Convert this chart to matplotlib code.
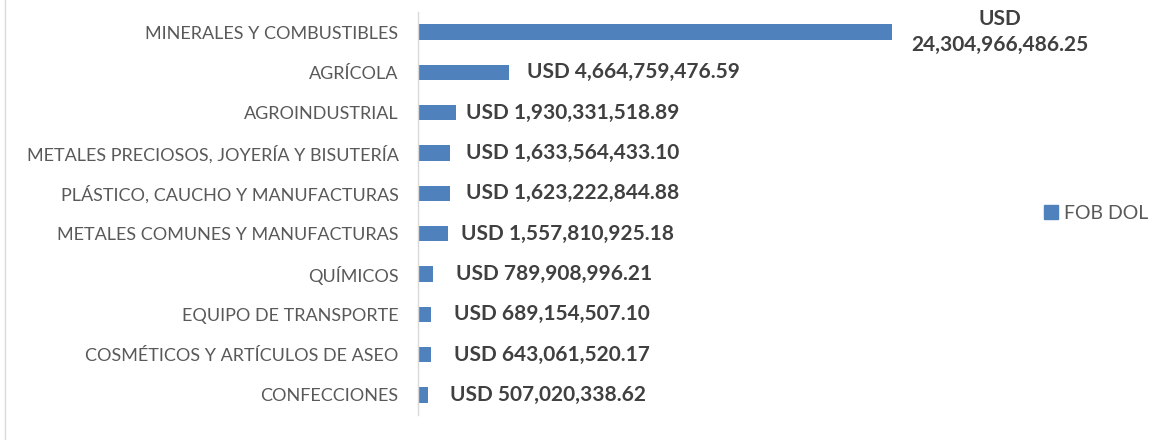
import matplotlib.pyplot as plt
from matplotlib.lines import Line2D

# Data (top to bottom as shown)
categories = [
    'MINERALES Y COMBUSTIBLES',
    'AGRÍCOLA',
    'AGROINDUSTRIAL',
    'METALES PRECIOSOS, JOYERÍA Y BISUTERÍA',
    'PLÁSTICO, CAUCHO Y MANUFACTURAS',
    'METALES COMUNES Y MANUFACTURAS',
    'QUÍMICOS',
    'EQUIPO DE TRANSPORTE',
    'COSMÉTICOS Y ARTÍCULOS DE ASEO',
    'CONFECCIONES',
]
fob_values = [
    24304966486.25,
    4664759476.59,
    1930331518.89,
    1633564433.10,
    1623222844.88,
    1557810925.18,
    789908996.21,
    689154507.10,
    643061520.17,
    507020338.62,
]
series_name = 'FOB DOL'

# label gap from bar end, in pixels (labels were nudged by hand in the original)
label_gap = [108, 18, 10, 16, 16, 13, 23, 23, 23, 22]

bar_color = '#4f81bd'
text_color = '#595959'
label_color = '#404040'
font = ['Lato', 'DejaVu Sans']

W, H, DPI = 1169, 440, 100
fig = plt.figure(figsize=(W / DPI, H / DPI), dpi=DPI)

# axes placed so that the axis line sits at x=418px, rows from y=12 to y=415
ax_left, ax_right = 418, 1000
ax_top, ax_bot = 12, 415
ax = fig.add_axes([ax_left / W, 1 - ax_bot / H, (ax_right - ax_left) / W, (ax_bot - ax_top) / H])

ypos = list(range(len(categories)))
ax.barh(ypos, fob_values, height=0.38, color=bar_color)
ax.set_ylim(len(categories) - 0.5, -0.5)
# max bar ends at 892px
xmax = fob_values[0] * (ax_right - ax_left) / (892 - ax_left)
ax.set_xlim(0, xmax)

ax.set_yticks(ypos)
ax.set_yticklabels(categories, family=font, fontsize=13, color=text_color)
ax.tick_params(axis='y', length=0, pad=14)
ax.set_xticks([])
for s in ['top', 'right', 'bottom']:
    ax.spines[s].set_visible(False)
ax.spines['left'].set_color('#d9d9d9')
ax.spines['left'].set_linewidth(1)

for i, v in enumerate(fob_values):
    txt = f'USD {v:,.2f}'
    if i == 0:
        ax.annotate(txt.replace(' ', '\n', 1), (v, i), xytext=(label_gap[i] * 72 / DPI, 0),
                    textcoords='offset points', ha='center', va='center',
                    family=font, fontsize=15, fontweight='bold', color=label_color,
                    linespacing=1.4)
    else:
        ax.annotate(txt, (v, i), xytext=(label_gap[i] * 72 / DPI, 0),
                    textcoords='offset points', ha='left', va='center',
                    family=font, fontsize=15, fontweight='bold', color=label_color)

handle = Line2D([], [], marker='s', linestyle='none', color=bar_color, markersize=9.5)
leg = fig.legend([handle], [series_name], loc='center left',
                 bbox_to_anchor=(1024 / W, 1 - 213 / H), frameon=False,
                 prop={'family': font, 'size': 14}, handletextpad=0.15, handlelength=1)
for t in leg.get_texts():
    t.set_color(text_color)

# chart frame edge on the left
fig.add_artist(Line2D([5 / W, 5 / W], [0, 1], color='#d9d9d9', linewidth=1))

fig.savefig('out.png', dpi=DPI)
